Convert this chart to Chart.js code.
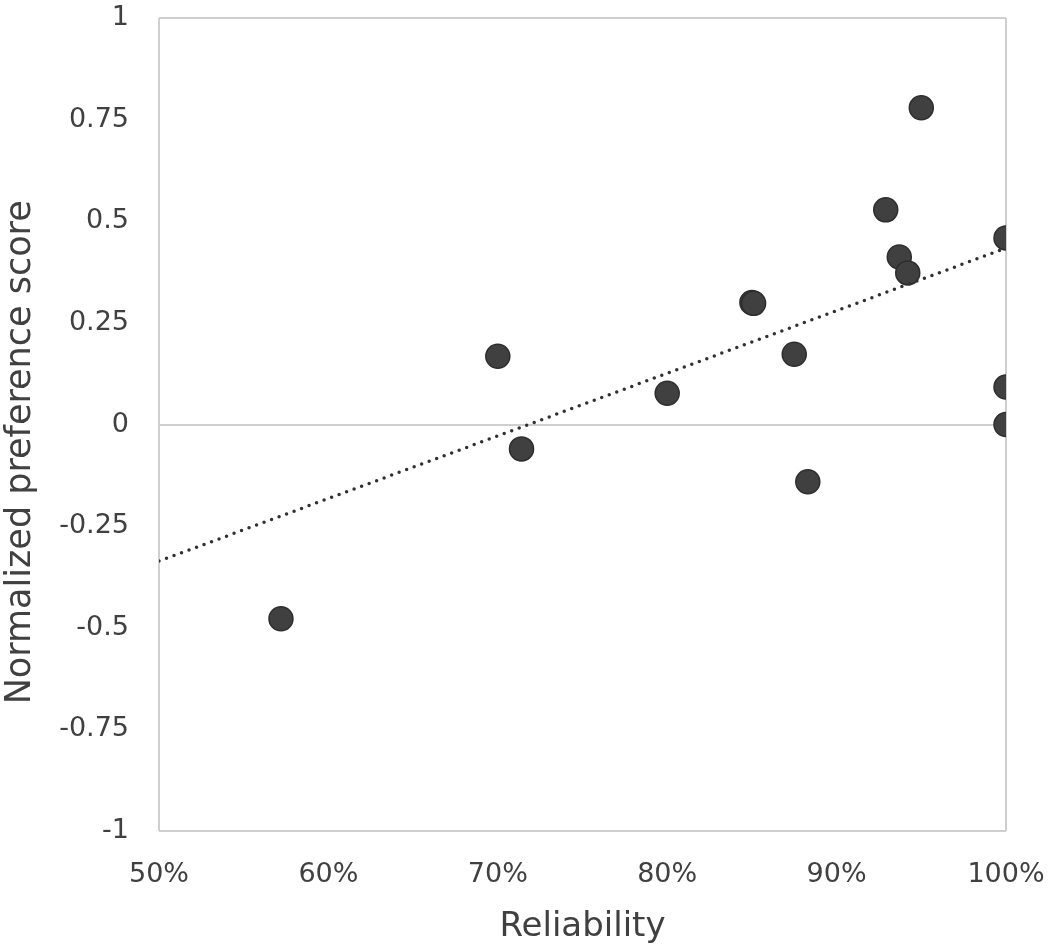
<!DOCTYPE html>
<html>
<head>
<meta charset="utf-8">
<script src="https://cdn.jsdelivr.net/npm/chart.js@4/dist/chart.umd.min.js"></script>
<style>
  html, body { margin: 0; padding: 0; background: #ffffff; }
  #wrap { width: 1050px; height: 948px; }
</style>
</head>
<body>
<div id="wrap"><canvas id="c" width="1050" height="948"></canvas></div>
<script>
// ---- data ----
const reliability = [57.2, 70.0, 71.4, 80.0, 85.0, 85.1, 87.5, 88.3, 92.9, 93.7, 94.2, 95.0, 100, 100, 100];
const preference  = [-0.478, 0.168, -0.060, 0.077, 0.300, 0.298, 0.173, -0.141, 0.528, 0.412, 0.373, 0.779, 0.459, 0.092, 0.000];
const trendX = [50, 100];
const trendY = [-0.336, 0.434];
const xTicks = [50, 60, 70, 80, 90, 100];
const yTicks = [-1, -0.75, -0.5, -0.25, 0, 0.25, 0.5, 0.75, 1];
const xTitle = 'Reliability';
const yTitle = 'Normalized preference score';

const FONT = 'DejaVu Sans';
const TXT = '#404040';
const FRAME = '#cfcfcf';

const points = reliability.map((x, i) => ({ x: x, y: preference[i] }));
const trend = trendX.map((x, i) => ({ x: x, y: trendY[i] }));

new Chart(document.getElementById('c'), {
  type: 'scatter',
  data: {
    datasets: [
      {
        type: 'line',
        data: trend,
        borderColor: '#303030',
        borderWidth: 3.5,
        borderDash: [0, 8],
        borderCapStyle: 'round',
        pointRadius: 0,
        fill: false,
        order: 0
      },
      {
        data: points,
        backgroundColor: '#404040',
        borderColor: '#2e2e2e',
        borderWidth: 1.5,
        pointRadius: 12,
        pointHoverRadius: 12,
        order: 1
      }
    ]
  },
  options: {
    responsive: false,
    animation: false,
    devicePixelRatio: 1,
    layout: { padding: { top: 18, right: 44, left: 0, bottom: 0 } },
    plugins: { legend: { display: false }, tooltip: { enabled: false } },
    scales: {
      x: {
        type: 'linear',
        min: 50, max: 100,
        afterBuildTicks: (s) => { s.ticks = xTicks.map(v => ({ value: v })); },
        afterFit: (s) => { s.height = 948 - 831; s.paddingLeft = 0; s.paddingRight = 0; },
        border: { display: false },
        grid: {
          drawTicks: false,
          lineWidth: 2,
          color: (ctx) => (ctx.tick && (ctx.tick.value === 50 || ctx.tick.value === 100)) ? FRAME : 'rgba(0,0,0,0)'
        },
        ticks: {
          padding: 28,
          color: TXT,
          font: { family: FONT, size: 27 },
          callback: (v) => v + '%'
        },
        title: {
          display: true,
          text: xTitle,
          color: TXT,
          font: { family: FONT, size: 34 },
          padding: { top: 4, bottom: 0 }
        }
      },
      y: {
        type: 'linear',
        min: -1, max: 1,
        afterBuildTicks: (s) => { s.ticks = yTicks.map(v => ({ value: v })); },
        afterFit: (s) => { s.width = 159; s.paddingTop = 0; s.paddingBottom = 0; },
        border: { display: false },
        grid: {
          drawTicks: false,
          lineWidth: 2,
          color: (ctx) => (ctx.tick && (ctx.tick.value === 0 || ctx.tick.value === 1 || ctx.tick.value === -1)) ? FRAME : 'rgba(0,0,0,0)'
        },
        ticks: {
          padding: 30,
          color: TXT,
          font: { family: FONT, size: 27 },
          callback: (v) => String(v)
        },
        title: {
          display: true,
          text: yTitle + '     ',
          color: TXT,
          font: { family: FONT, size: 35 },
          padding: { top: 0, bottom: 0 }
        }
      }
    }
  }
});
</script>
</body>
</html>
